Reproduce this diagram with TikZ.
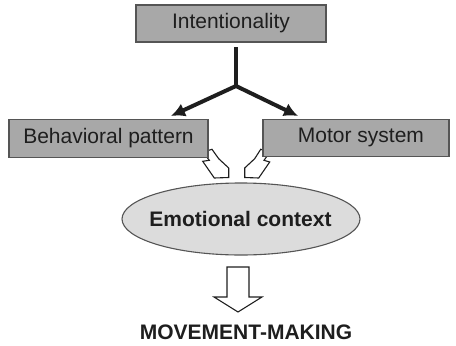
\documentclass[tikz,border=0pt]{standalone}
\usepackage{fontspec}
\setmainfont{Liberation Sans}
\usetikzlibrary{arrows.meta,shapes.geometric}
\definecolor{boxfill}{HTML}{A8A8A8}
\definecolor{boxline}{HTML}{555555}
\definecolor{ellfill}{HTML}{DCDCDC}
\definecolor{txt}{HTML}{1E1E1E}
\tikzset{
  graybox/.style={draw=boxline, fill=boxfill, line width=1.1pt, inner sep=0pt},
  lbl/.style={text=txt, inner sep=0pt, font=\fontsize{21}{25}\selectfont},
  blbl/.style={lbl, font=\fontsize{21}{25}\selectfont\bfseries},
  hollow/.style={draw=txt, fill=white, line width=1.1pt, line join=miter},
  blackarrow/.style={draw=txt, line width=4pt, -{Latex[length=14pt,width=14pt]}}
}
\begin{document}
\begin{tikzpicture}[x=1pt,y=-1pt]
\useasboundingbox (0,0) rectangle (456,346);
% hollow arrows (drawn under the boxes)
\draw[hollow] (212,149.3) -- (218.7,158.7) -- (228.7,168) -- (228.7,177.5) -- (214.3,178) -- (202.7,161.3) -- (209.3,160.3) -- (203,152) -- cycle;
\draw[hollow] (260.7,149.3) -- (254.7,158.7) -- (244.7,168) -- (244.7,177.5) -- (258.7,178) -- (269.7,162) -- (264,160.3) -- (270,152) -- cycle;
% boxes
\node[graybox, minimum width=190pt, minimum height=37pt] (int) at (231,23.5) {};
\node[lbl] (intt) at (231,23.5) {Intentionality};
\node[graybox, minimum width=199pt, minimum height=38pt] (beh) at (108.5,138.5) {};
\node[lbl] (beht) at (108.5,138) {Behavioral pattern};
\node[graybox, minimum width=186pt, minimum height=37pt] (mot) at (356,138) {};
\node[lbl] (mott) at (361,137.5) {Motor system};
% ellipse
\node[ellipse, draw=boxline, fill=ellfill, line width=1.1pt, minimum width=238pt, minimum height=72pt, inner sep=0pt] (emo) at (241,219) {};
\node[blbl] (emot) at (240.5,219) {Emotional context};
% black branching arrows
\coordinate (stemtop) at (236,47);
\coordinate (junc) at (236,86);
\coordinate (tipl) at (171,116);
\coordinate (tipr) at (298,116);
\draw[draw=txt, line width=4pt] (stemtop) -- (junc);
\draw[blackarrow] (junc) -- (tipl);
\draw[blackarrow] (junc) -- (tipr);
% down hollow arrow
\draw[hollow] (227,267) -- (249,267) -- (249,297) -- (262,297) -- (238,312) -- (214,297) -- (227,297) -- cycle;
\node[blbl] (mm) at (246,332) {MOVEMENT-MAKING};
\end{tikzpicture}
\end{document}
